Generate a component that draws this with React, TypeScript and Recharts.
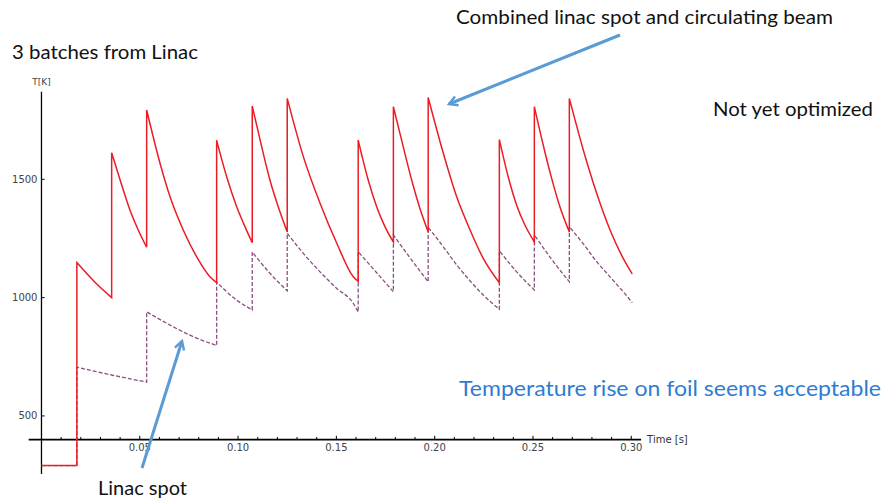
import { LineChart, Line, XAxis, YAxis, ReferenceLine, ReferenceDot } from 'recharts';

// combined linac spot + circulating beam (red, solid)
const combinedTime = [
  0, 0.018, 0.018, 0.0272, 0.0357, 0.0357, 0.0408, 0.045, 0.0492, 0.0535,
  0.0535, 0.0603, 0.0654, 0.0721, 0.0789, 0.0857, 0.0891, 0.0891, 0.0942, 0.0993,
  0.1035, 0.1072, 0.1072, 0.112, 0.1162, 0.121, 0.125, 0.125, 0.1332, 0.1417,
  0.1502, 0.1586, 0.1611, 0.1611, 0.1662, 0.1705, 0.1747, 0.179, 0.179, 0.184,
  0.1883, 0.1925, 0.1967, 0.1967, 0.2044, 0.2112, 0.218, 0.2247, 0.2329, 0.2329,
  0.2374, 0.2417, 0.2459, 0.2507, 0.2507, 0.2552, 0.2595, 0.2637, 0.2685, 0.2685,
  0.2756, 0.2824, 0.2892, 0.2959, 0.3005,
];
const combinedTemp = [
  290, 290, 1148, 1065, 1000, 1612, 1476, 1370, 1286, 1213,
  1793, 1568, 1426, 1286, 1173, 1088, 1063, 1665, 1511, 1384,
  1300, 1232, 1810, 1638, 1497, 1370, 1277, 1842, 1596, 1399,
  1230, 1088, 1068, 1666, 1497, 1384, 1300, 1235, 1807, 1638,
  1497, 1377, 1278, 1846, 1610, 1426, 1286, 1166, 1063, 1668,
  1511, 1391, 1307, 1235, 1807, 1645, 1504, 1384, 1277, 1842,
  1624, 1441, 1286, 1166, 1100,
];

// linac spot only (purple, dashed)
const spotTime = [
  0, 0.018, 0.018, 0.0357, 0.0535, 0.0535, 0.0654, 0.0772, 0.0891, 0.0891,
  0.0981, 0.1072, 0.1072, 0.1162, 0.125, 0.125, 0.1332, 0.1417, 0.1502, 0.1586,
  0.1611, 0.1611, 0.1705, 0.179, 0.179, 0.1883, 0.1967, 0.1967, 0.2044, 0.2112,
  0.218, 0.2247, 0.2329, 0.2329, 0.2417, 0.2507, 0.2507, 0.2595, 0.2685, 0.2685,
  0.2756, 0.2824, 0.2892, 0.2959, 0.3005,
];
const spotTemp = [
  290, 290, 706, 673, 643, 940, 884, 835, 798, 1066,
  997, 948, 1193, 1103, 1029, 1272, 1187, 1109, 1039, 976,
  939, 1194, 1105, 1025, 1265, 1159, 1067, 1297, 1215, 1138,
  1071, 1011, 951, 1198, 1109, 1032, 1265, 1162, 1067, 1300,
  1227, 1152, 1088, 1025, 979,
];

const xMajorTicks = [0.05, 0.1, 0.15, 0.2, 0.25, 0.3];
const xTickLabels = ['0.05', '0.10', '0.15', '0.20', '0.25', '0.30'];
const xMinorTicks = [
  0.01, 0.02, 0.03, 0.04, 0.06, 0.07, 0.08, 0.09, 0.11, 0.12, 0.13, 0.14,
  0.16, 0.17, 0.18, 0.19, 0.21, 0.22, 0.23, 0.24, 0.26, 0.27, 0.28, 0.29,
];
const yTicks = [500, 1000, 1500];

const X_MIN = -0.0065;
const X_MAX = 0.305;
const Y_MIN = 255;
const Y_MAX = 1870;
const AXIS_Y = 400;

const combinedData = combinedTime.map((t, i) => ({ t, T: combinedTemp[i] }));
const spotData = spotTime.map((t, i) => ({ t, T: spotTemp[i] }));

const tickFont = { fontSize: 10, fill: '#444', fontFamily: 'DejaVu Sans' };
const noteFont = 'Lato, "Open Sans", sans-serif';
const ARROW = '#5b9bd5';

// monotone cubic within each decay run, straight vertical steps where two points share x
type Pt = [number, number];
const sgn = (v: number) => (v < 0 ? -1 : 1);

function drawRun(ctx: any, run: Pt[]) {
  const n = run.length;
  if (n < 2) return;
  if (n === 2) {
    ctx.lineTo(run[1][0], run[1][1]);
    return;
  }
  const d: number[] = [];
  for (let i = 0; i < n - 1; i++) d.push((run[i + 1][1] - run[i][1]) / (run[i + 1][0] - run[i][0]));
  const m: number[] = new Array(n).fill(0);
  for (let i = 1; i < n - 1; i++) {
    const h0 = run[i][0] - run[i - 1][0];
    const h1 = run[i + 1][0] - run[i][0];
    const p = (d[i - 1] * h1 + d[i] * h0) / (h0 + h1);
    m[i] = (sgn(d[i - 1]) + sgn(d[i])) * Math.min(Math.abs(d[i - 1]), Math.abs(d[i]), 0.5 * Math.abs(p)) || 0;
  }
  m[0] = (3 * d[0] - m[1]) / 2;
  m[n - 1] = (3 * d[n - 2] - m[n - 2]) / 2;
  for (let i = 0; i < n - 1; i++) {
    const h = (run[i + 1][0] - run[i][0]) / 3;
    ctx.bezierCurveTo(
      run[i][0] + h, run[i][1] + m[i] * h,
      run[i + 1][0] - h, run[i + 1][1] - m[i + 1] * h,
      run[i + 1][0], run[i + 1][1],
    );
  }
}

function stepDecayCurve(ctx: any) {
  let pts: Pt[] = [];
  return {
    areaStart() {},
    areaEnd() {},
    lineStart() {
      pts = [];
    },
    point(x: number, y: number) {
      pts.push([+x, +y]);
    },
    lineEnd() {
      if (!pts.length) return;
      const runs: Pt[][] = [];
      let cur: Pt[] = [];
      pts.forEach((p, i) => {
        if (i > 0 && Math.abs(p[0] - pts[i - 1][0]) < 1e-6) {
          runs.push(cur);
          cur = [];
        }
        cur.push(p);
      });
      runs.push(cur);
      runs.forEach((run, ri) => {
        if (ri === 0) ctx.moveTo(run[0][0], run[0][1]);
        else ctx.lineTo(run[0][0], run[0][1]);
        drawRun(ctx, run);
      });
    },
  };
}

export default function App() {
  return (
    <div style={{ position: 'absolute', left: 0, top: 0, width: 884, height: 500, background: '#fff' }}>
      <LineChart width={884} height={500} margin={{ top: 91.8, right: 242.9, bottom: 26.1, left: 28.7 }}>
        <XAxis type="number" dataKey="t" domain={[X_MIN, X_MAX]} hide allowDataOverflow />
        <YAxis type="number" domain={[Y_MIN, Y_MAX]} hide allowDataOverflow />

        <ReferenceLine segment={[{ x: X_MIN, y: AXIS_Y }, { x: X_MAX, y: AXIS_Y }]} stroke="#000" strokeWidth={1.6} />
        <ReferenceLine segment={[{ x: 0, y: Y_MIN }, { x: 0, y: Y_MAX }]} stroke="#000" strokeWidth={1.3} />

        {xMinorTicks.map((v) => (
          <ReferenceLine key={`mn-${v}`} segment={[{ x: v, y: AXIS_Y }, { x: v, y: AXIS_Y + 11 }]} stroke="#000" strokeWidth={1} />
        ))}
        {xMajorTicks.map((v) => (
          <ReferenceLine key={`mj-${v}`} segment={[{ x: v, y: AXIS_Y }, { x: v, y: AXIS_Y + 16 }]} stroke="#000" strokeWidth={1} />
        ))}
        {xMajorTicks.map((v, i) => (
          <ReferenceDot key={`xl-${v}`} x={v} y={AXIS_Y} r={0} stroke="none" fill="none"
            label={{ value: xTickLabels[i], position: 'bottom', offset: 4, ...tickFont }} />
        ))}
        {yTicks.map((v) => (
          <ReferenceLine key={`yt-${v}`} segment={[{ x: 0, y: v }, { x: 0.0016, y: v }]} stroke="#000" strokeWidth={1} />
        ))}
        {yTicks.map((v) => (
          <ReferenceDot key={`yl-${v}`} x={0} y={v} r={0} stroke="none" fill="none"
            label={{ value: String(v), position: 'left', offset: 4, ...tickFont }} />
        ))}
        <ReferenceDot x={0} y={Y_MAX} r={0} stroke="none" fill="none"
          label={{ value: 'T[K]', position: 'top', offset: 7, fontSize: 9, fill: '#444', fontFamily: 'DejaVu Sans' }} />
        <ReferenceDot x={X_MAX} y={AXIS_Y} r={0} stroke="none" fill="none"
          label={{ value: 'Time [s]', position: 'right', offset: 6, fontSize: 10, fill: '#333', fontFamily: 'DejaVu Sans' }} />

        <Line data={spotData} dataKey="T" type={stepDecayCurve as any} stroke="#8c4f7e" strokeWidth={1.3}
          strokeDasharray="4 2" dot={false} isAnimationActive={false} />
        <Line data={combinedData} dataKey="T" type={stepDecayCurve as any} stroke="#ec1c24" strokeWidth={1.5}
          dot={false} isAnimationActive={false} />
      </LineChart>

      <svg width={884} height={500} style={{ position: 'absolute', left: 0, top: 0, pointerEvents: 'none' }}>
        <defs>
          <marker id="head" viewBox="0 0 10 10" refX="8" refY="5" markerWidth="4" markerHeight="4" orient="auto">
            <polyline points="1,1 8,5 1,9" fill="none" stroke={ARROW} strokeWidth={2} />
          </marker>
        </defs>
        <line x1={620} y1={35} x2={449} y2={104} stroke={ARROW} strokeWidth={3} markerEnd="url(#head)" />
        <line x1={142} y1={468} x2={182} y2={341} stroke={ARROW} strokeWidth={3} markerEnd="url(#head)" />

        <text x={12} y={59} fontFamily={noteFont} fontSize={19} fill="#111" textLength={186} lengthAdjust="spacingAndGlyphs">3 batches from Linac</text>
        <text x={456} y={24} fontFamily={noteFont} fontSize={19} fill="#111" textLength={377} lengthAdjust="spacingAndGlyphs">Combined linac spot and circulating beam</text>
        <text x={713} y={116} fontFamily={noteFont} fontSize={19} fill="#111" textLength={160} lengthAdjust="spacingAndGlyphs">Not yet optimized</text>
        <text x={459} y={396} fontFamily={noteFont} fontSize={21} fill="#2e7dd1" textLength={422} lengthAdjust="spacingAndGlyphs">Temperature rise on foil seems acceptable</text>
        <text x={98} y={495} fontFamily={noteFont} fontSize={19} fill="#111" textLength={89} lengthAdjust="spacingAndGlyphs">Linac spot</text>
      </svg>
    </div>
  );
}
